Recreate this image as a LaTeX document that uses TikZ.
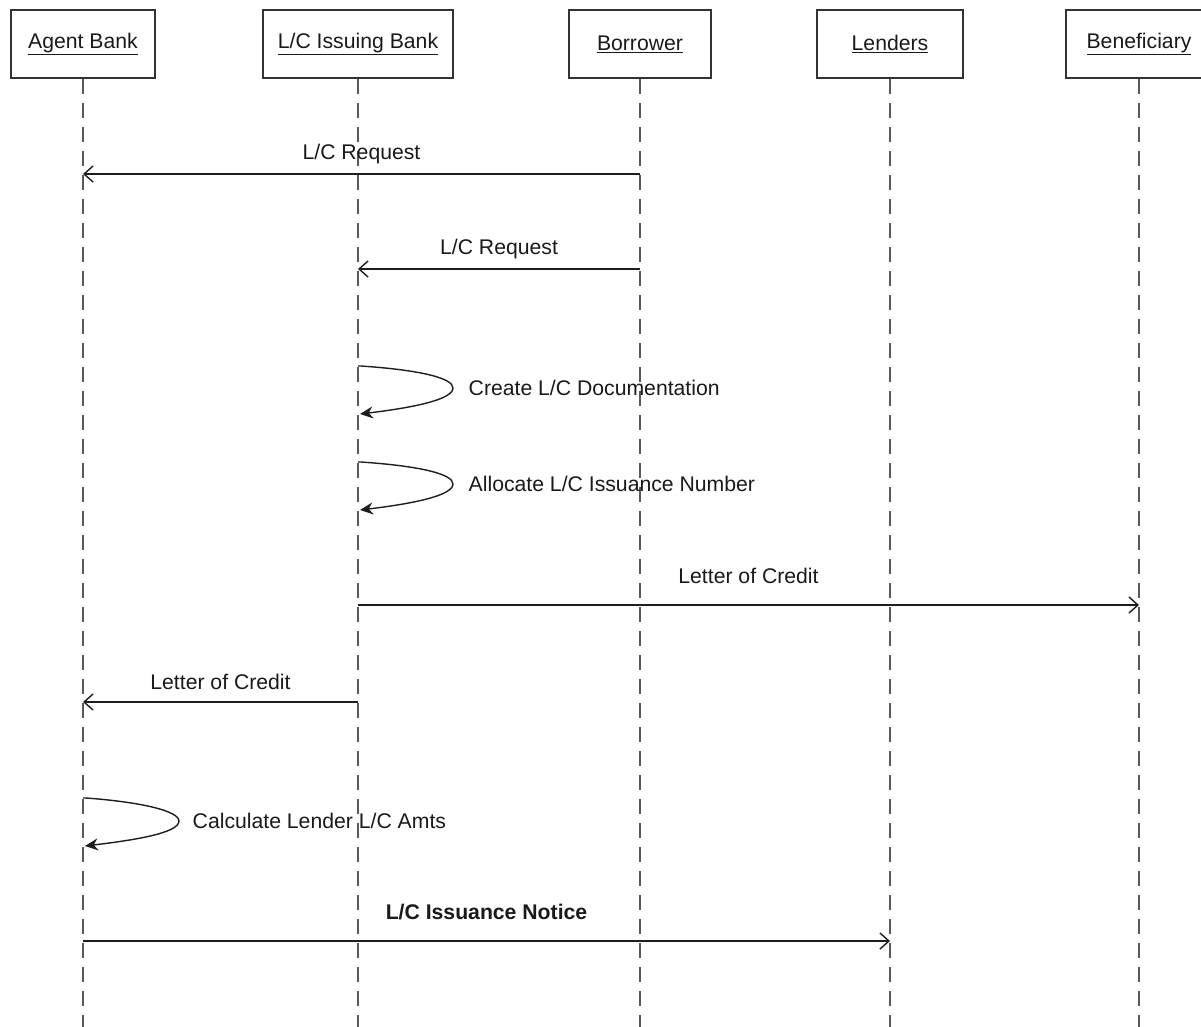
\documentclass[tikz,border=0pt]{standalone}
\usepackage{fontspec}
\setmainfont{Liberation Sans}
\usetikzlibrary{arrows.meta}
\definecolor{boxgray}{HTML}{333333}
\definecolor{lifegray}{HTML}{5A5A5A}
\definecolor{msgcol}{HTML}{1E1E1E}
\definecolor{txt}{HTML}{1A1A1A}
\begin{document}
\begin{tikzpicture}[x=1pt,y=-1pt,
  actor/.style={draw=boxgray, line width=1.8pt, minimum width=#1, minimum height=68pt,
    inner sep=0pt, font=\fontsize{21.2}{24}\selectfont, text=txt},
  lifeline/.style={draw=lifegray, line width=2pt, dash pattern=on 15pt off 9pt},
  msg/.style={draw=msgcol, line width=1.4pt,
    -{Straight Barb[length=9pt,width=16pt,line width=1.4pt]}},
  selfmsg/.style={draw=msgcol, line width=1.4pt, -{Stealth[length=13pt,width=12pt]}},
  lbl/.style={font=\fontsize{21.2}{24}\selectfont, text=txt, inner sep=0pt}
]
\useasboundingbox[fill=white] (0,0) rectangle (1201,1026);

% participants
\node[actor=144pt] (agent)    at (83,44)   {\underline{Agent Bank}};
\node[actor=190pt] (issuing)  at (358,44)  {\underline{L/C Issuing Bank}};
\node[actor=142pt] (borrower) at (640,44)  {\underline{Borrower}};
\node[actor=146pt] (lenders)  at (890,44)  {\underline{Lenders}};
\node[actor=146pt] (benef)    at (1139,44) {\underline{Beneficiary}};

% lifelines
\coordinate (bottom) at (0,1030);
\foreach \p in {agent,issuing,borrower,lenders,benef}
  \draw[lifeline] (\p.south) -- (\p.south |- bottom);

% message rows
\coordinate (m1) at (0,174);
\coordinate (m2) at (0,269);
\coordinate (s1) at (0,366);
\coordinate (s2) at (0,462);
\coordinate (m3) at (0,605);
\coordinate (m4) at (0,702);
\coordinate (s3) at (0,798);
\coordinate (m5) at (0,941);

\draw[msg] (borrower |- m1) -- (agent |- m1)
  node[lbl, midway, yshift=20pt] {L/C Request};
\draw[msg] (borrower |- m2) -- (issuing |- m2)
  node[lbl, midway, yshift=20pt] {L/C Request};

% self messages on the issuing bank
\draw[selfmsg] (issuing |- s1) -- ++(3,0)
  .. controls +(59,4) and +(0,-10) .. ++(92,22)
  node[lbl, anchor=west, xshift=15pt] {Create L/C Documentation}
  .. controls +(0,12) and +(50,-6) .. ++(-93,26);
\draw[selfmsg] (issuing |- s2) -- ++(3,0)
  .. controls +(59,4) and +(0,-10) .. ++(92,22)
  node[lbl, anchor=west, xshift=15pt] {Allocate L/C Issuance Number}
  .. controls +(0,12) and +(50,-6) .. ++(-93,26);

\draw[msg] (issuing |- m3) -- (benef |- m3)
  node[lbl, midway, yshift=29pt] {Letter of Credit};
\draw[msg] (issuing |- m4) -- (agent |- m4)
  node[lbl, midway, yshift=20pt] {Letter of Credit};

% self message on the agent bank
\draw[selfmsg] (agent |- s3) -- ++(3,0)
  .. controls +(55,4) and +(0,-10) .. ++(93,23)
  node[lbl, anchor=west, xshift=13pt] {Calculate Lender L/C Amts}
  .. controls +(0,12) and +(50,-6) .. ++(-94,25);

\draw[msg] (agent |- m5) -- (lenders |- m5)
  node[lbl, midway, yshift=29pt, font=\fontsize{21.2}{24}\selectfont\bfseries] {L/C Issuance Notice};
\end{tikzpicture}
\end{document}
